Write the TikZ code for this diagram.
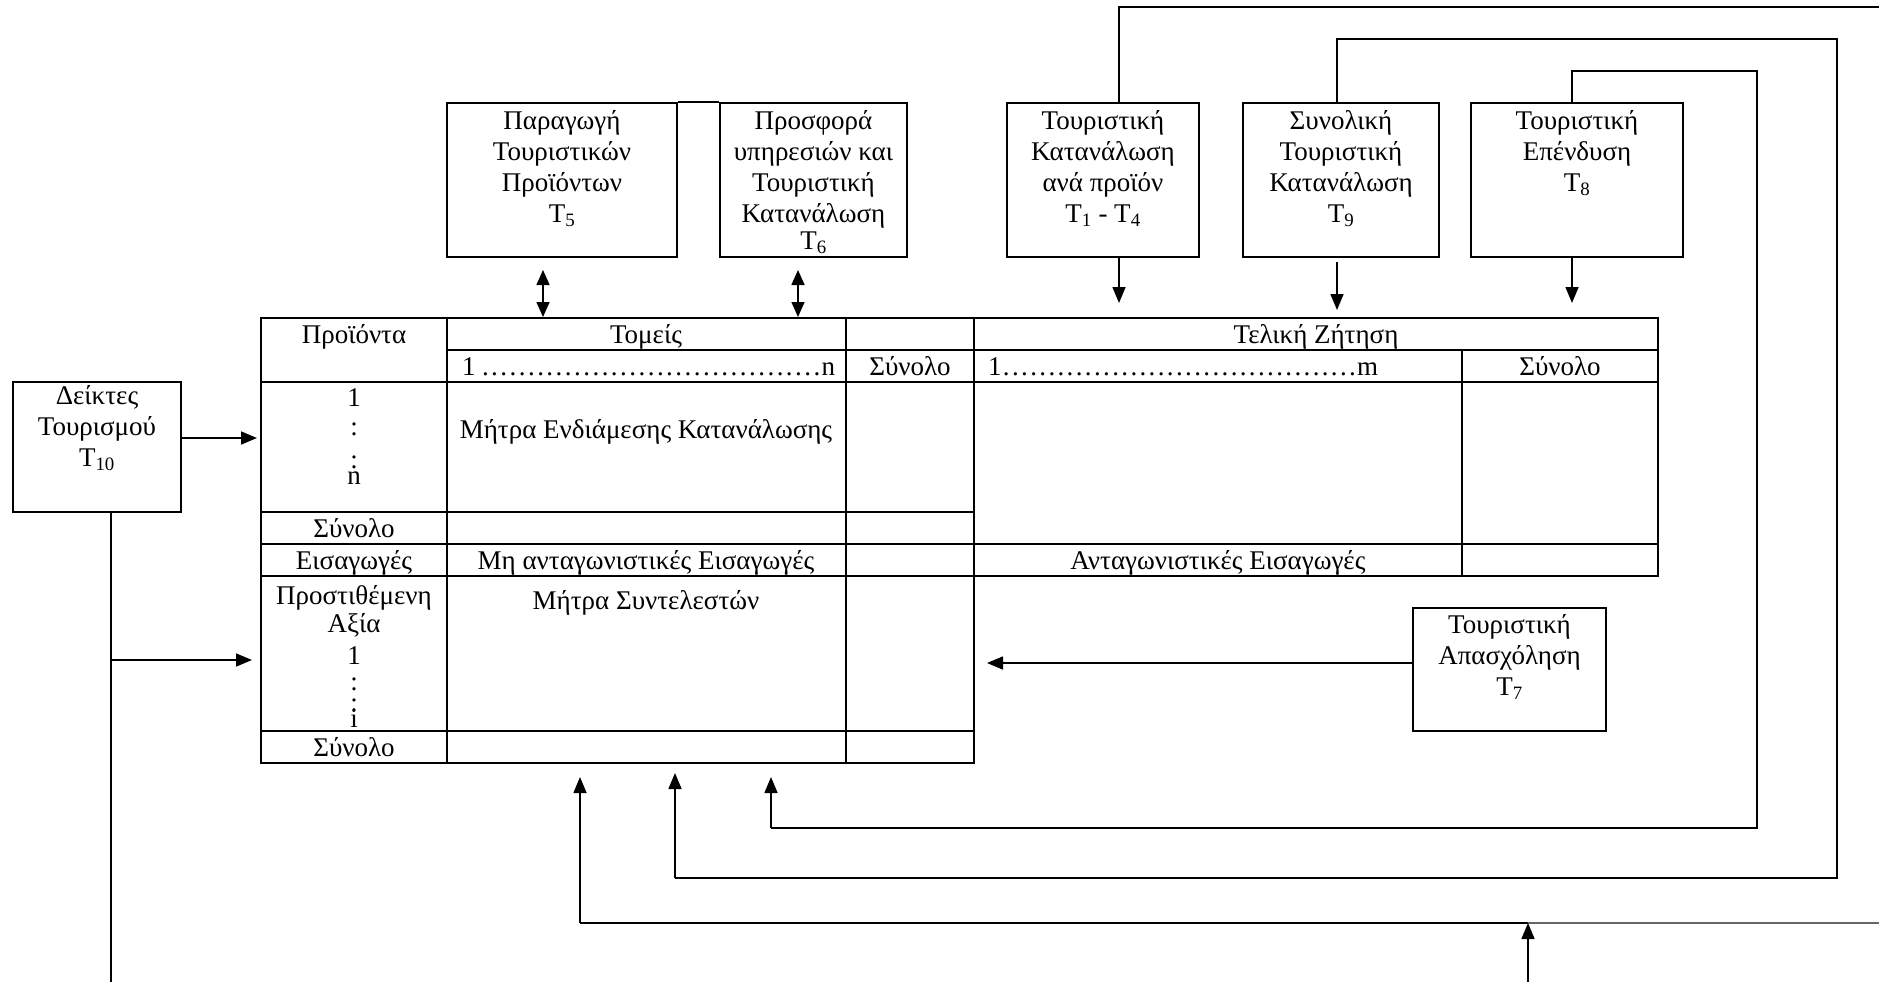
\documentclass[tikz,border=0pt]{standalone}
\usepackage{fontspec}
\setmainfont{Liberation Serif}
\usetikzlibrary{arrows.meta}
\newcommand{\dotrow}[3]{\makebox[#1][l]{#2\xleaders\hbox to 0.333em{\hss.\hss}\hfill #3}}
\begin{document}
\begin{tikzpicture}[x=1pt,y=-1pt,
  frame/.style={draw, line width=2.5pt, inner sep=0pt},
  lbl/.style={font=\fontsize{27}{31}\selectfont, align=center, inner sep=0pt, anchor=north},
  cell/.style={font=\fontsize{27}{31}\selectfont, inner sep=0pt, anchor=base},
  grid/.style={line width=2.5pt, line cap=rect},
  loopline/.style={line width=2.5pt, line join=miter},
  arr/.style={line width=1.6pt, -{Triangle[width=13pt,length=16pt]}},
  dbl/.style={line width=1.6pt, {Triangle[width=13pt,length=15pt]}-{Triangle[width=13pt,length=15pt]}}]
\useasboundingbox (0,0) rectangle (1879,982);
\clip (0,0) rectangle (1879,982);

% ---------- top boxes ----------
\node[frame, minimum width=230, minimum height=154] (t5) at (562,180) {};
\node[lbl] (t5txt) at (562,110) {Παραγωγή\\Τουριστικών\\Προϊόντων\\T\textsubscript{5}};
\node[frame, minimum width=187, minimum height=154] (t6) at (813.5,180) {};
\node[lbl] (t6txt) at (813.5,110) {Προσφορά\\υπηρεσιών και\\Τουριστική\\Κατανάλωση\\[-4pt]T\textsubscript{6}};
\draw[loopline] (t5.north east) -- (t6.north west);

\node[frame, minimum width=192, minimum height=154] (t14) at (1103,180) {};
\node[lbl] (t14txt) at (1103,110) {Τουριστική\\Κατανάλωση\\ανά προϊόν\\T\textsubscript{1} - T\textsubscript{4}};
\node[frame, minimum width=196, minimum height=154] (t9) at (1341,180) {};
\node[lbl] (t9txt) at (1341,110) {Συνολική\\Τουριστική\\Κατανάλωση\\T\textsubscript{9}};
\node[frame, minimum width=212, minimum height=154] (t8) at (1577,180) {};
\node[lbl] (t8txt) at (1577,110) {Τουριστική\\Επένδυση\\T\textsubscript{8}};

% ---------- side boxes ----------
\node[frame, minimum width=168, minimum height=130] (t10) at (97,447) {};
\node[lbl] (t10txt) at (97,385) {Δείκτες\\Τουρισμού\\T\textsubscript{10}};
\node[frame, minimum width=193, minimum height=123] (t7) at (1509.5,669.5) {};
\node[lbl] (t7txt) at (1509.5,614) {Τουριστική\\Απασχόληση\\T\textsubscript{7}};

% ---------- table ----------
\draw[grid] (261,318) -- (1658,318)
            (447,350) -- (1658,350)
            (261,382) -- (1658,382)
            (261,512) -- (974,512)
            (261,544) -- (1658,544)
            (261,576) -- (1658,576)
            (261,731) -- (974,731)
            (261,763) -- (974,763)
            (261,318) -- (261,763)
            (447,318) -- (447,763)
            (846,318) -- (846,763)
            (974,318) -- (974,763)
            (1462,350) -- (1462,576)
            (1658,318) -- (1658,576);

\node[cell] (cprod) at (354,343) {Προϊόντα};
\node[cell] (ctom) at (646,343) {Τομείς};
\node[cell, anchor=base west] (c1n) at (462,375) {\dotrow{373pt}{1\hspace{5pt}}{n}};
\node[cell] (csyn1) at (910,375) {Σύνολο};
\node[cell] (ctel) at (1316,343) {Τελική Ζήτηση};
\node[cell, anchor=base west] (c1m) at (988,375) {\dotrow{390pt}{1}{m}};
\node[cell] (csyn2) at (1560,375) {Σύνολο};

\node[lbl] (crows) at (354,388) {1\\[-2pt]:\\[2pt]:\\[-15pt]n};
\node[cell] (cmie) at (646,438) {Μήτρα Ενδιάμεσης Κατανάλωσης};
\node[cell] (csyn3) at (354,537) {Σύνολο};
\node[cell] (ceis) at (354,569) {Εισαγωγές};
\node[cell] (cmae) at (646,569) {Μη ανταγωνιστικές Εισαγωγές};
\node[cell] (cae) at (1218,569) {Ανταγωνιστικές Εισαγωγές};
\node[lbl] (cpa) at (354,585) {Προστιθέμενη\\[-3pt]Αξία\\[1pt]1\\[-5pt]:\\[-10pt]:\\[-15pt]i};
\node[cell] (cms) at (646,609) {Μήτρα Συντελεστών};
\node[cell] (csyn4) at (354,756) {Σύνολο};

% ---------- connector points ----------
\coordinate (d5a) at (543,270);  \coordinate (d5b) at (543,317);
\coordinate (d6a) at (798,270);  \coordinate (d6b) at (798,317);
\coordinate (d14a) at (1119,257); \coordinate (d14b) at (1119,303);
\coordinate (d9a) at (1337,262);  \coordinate (d9b) at (1337,310);
\coordinate (d8a) at (1572,258);  \coordinate (d8b) at (1572,303);

\coordinate (l8a) at (1572,103); \coordinate (l8b) at (1572,71);
\coordinate (l8c) at (1757,71);  \coordinate (l8d) at (1757,828);
\coordinate (l8e) at (771,828);  \coordinate (l8f) at (771,777);

\coordinate (l9a) at (1337,103); \coordinate (l9b) at (1337,39);
\coordinate (l9c) at (1837,39);  \coordinate (l9d) at (1837,878);
\coordinate (l9e) at (675,878);  \coordinate (l9f) at (675,773);

\coordinate (l14a) at (1119,103); \coordinate (l14b) at (1119,7);
\coordinate (l14c) at (1895,7);
\coordinate (l14d) at (1895,923); \coordinate (l14j) at (1528,923);
\coordinate (l14e) at (580,923);  \coordinate (l14f) at (580,777);
\coordinate (t7low) at (1528,995);

\coordinate (t7s) at (1413,663); \coordinate (t7e) at (987,663);
\coordinate (t10s) at (181,438); \coordinate (t10e) at (257,438);
\coordinate (t10a) at (111,512); \coordinate (t10z) at (111,995);
\coordinate (t10m) at (111,660); \coordinate (t10n) at (252,660);

% ---------- connectors ----------
\draw[dbl] (d5a) -- (d5b);
\draw[dbl] (d6a) -- (d6b);
\draw[arr] (d14a) -- (d14b);
\draw[arr] (d9a) -- (d9b);
\draw[arr] (d8a) -- (d8b);

\draw[loopline] (l8a) -- (l8b) -- (l8c) -- (l8d) -- (l8e);
\draw[arr] (l8e) -- (l8f);
\draw[loopline] (l9a) -- (l9b) -- (l9c) -- (l9d) -- (l9e);
\draw[arr] (l9e) -- (l9f);
\draw[loopline] (l14a) -- (l14b) -- (l14c);
\draw[line width=1.6pt, black!60] (l14d) -- (l14j);
\draw[loopline] (l14j) -- (l14e);
\draw[arr] (l14e) -- (l14f);
\draw[arr] (t7low) -- (l14j);

\draw[arr] (t7s) -- (t7e);
\draw[arr] (t10s) -- (t10e);
\draw[line width=1.6pt] (t10a) -- (t10z);
\draw[arr] (t10m) -- (t10n);
\end{tikzpicture}
\end{document}
